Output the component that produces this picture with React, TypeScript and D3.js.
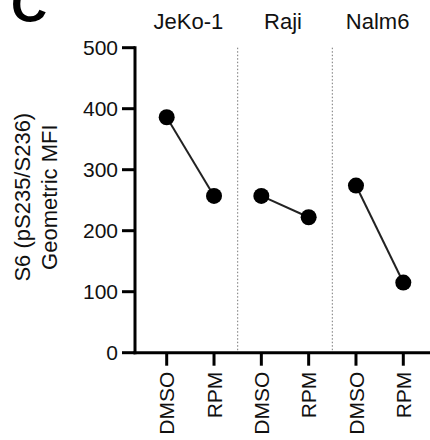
import * as d3 from "d3";

// values
const cellLines = ["JeKo-1", "Raji", "Nalm6"];
const treatments = ["DMSO", "RPM"];
const dmsoValues = [386, 257, 274];
const rpmValues = [257, 222, 115];
const yTicks = [0, 100, 200, 300, 400, 500];

const W = 430;
const H = 440;
const font = "'Liberation Sans', Arial, sans-serif";

export default function App() {
  const y = d3.scaleLinear().domain([0, 500]).range([352.7, 47.7]);
  const categories = cellLines.flatMap((c) => treatments.map((t) => `${c}|${t}`));
  const x = d3
    .scalePoint<string>()
    .domain(categories)
    .range([166.7, 403.3]);
  const axisX = 135;
  const step = x.step();

  const pairs = cellLines.map((c, i) => [
    { key: `${c}|DMSO`, v: dmsoValues[i] },
    { key: `${c}|RPM`, v: rpmValues[i] },
  ]);
  const link = d3
    .line<{ key: string; v: number }>()
    .x((d) => x(d.key)!)
    .y((d) => y(d.v));

  return (
    <svg
      width={W}
      height={H}
      style={{ position: "absolute", left: 0, top: 0, background: "#fff" }}
      fontFamily={font}
    >
      {/* panel letter */}
      <text x={11} y={22} fontSize={50} fontWeight="bold" fill="#000">
        C
      </text>

      {/* group titles */}
      {cellLines.map((c) => {
        const cx = (x(`${c}|DMSO`)! + x(`${c}|RPM`)!) / 2;
        return (
          <text key={c} x={cx - 2} y={29} fontSize={22} textAnchor="middle" fill="#111">
            {c}
          </text>
        );
      })}

      {/* dotted separators */}
      {cellLines.slice(1).map((c) => {
        const sx = x(`${c}|DMSO`)! - step / 2;
        return (
          <line
            key={c}
            x1={sx}
            x2={sx}
            y1={y(500)}
            y2={y(0)}
            stroke="#777"
            strokeWidth={1}
            strokeDasharray="1.5,2"
          />
        );
      })}

      {/* y axis */}
      <line x1={axisX} x2={axisX} y1={y(500) - 1.5} y2={y(0) + 1.5} stroke="#000" strokeWidth={3} />
      {yTicks.map((t) => (
        <g key={t} transform={`translate(0,${y(t)})`}>
          <line x1={axisX - 13} x2={axisX} stroke="#000" strokeWidth={3} />
          <text x={axisX - 17} dy="0.36em" fontSize={21} textAnchor="end" fill="#111">
            {t}
          </text>
        </g>
      ))}
      <text
        transform={`translate(30,${(y(0) + y(500)) / 2 - 3}) rotate(-90)`}
        fontSize={22}
        textAnchor="middle"
        fill="#111"
      >
        <tspan x={0} dy={0}>S6 (pS235/S236)</tspan>
        <tspan x={0} dy={27}>Geometric MFI</tspan>
      </text>

      {/* x axis */}
      <line x1={axisX - 1.5} x2={W} y1={y(0)} y2={y(0)} stroke="#000" strokeWidth={3} />
      {categories.map((k) => {
        const t = k.split("|")[1];
        return (
          <g key={k} transform={`translate(${x(k)},${y(0)})`}>
            <line y1={0} y2={13} stroke="#000" strokeWidth={3} />
            <text
              transform="translate(0,19) rotate(-90)"
              dy="0.36em"
              fontSize={21}
              textAnchor="end"
              fill="#111"
            >
              {t}
            </text>
          </g>
        );
      })}

      {/* paired points */}
      {pairs.map((p, i) => (
        <g key={i}>
          <path d={link(p)!} fill="none" stroke="#222" strokeWidth={2} />
          {p.map((d) => (
            <circle key={d.key} cx={x(d.key)} cy={y(d.v)} r={8} fill="#000" />
          ))}
        </g>
      ))}
    </svg>
  );
}
